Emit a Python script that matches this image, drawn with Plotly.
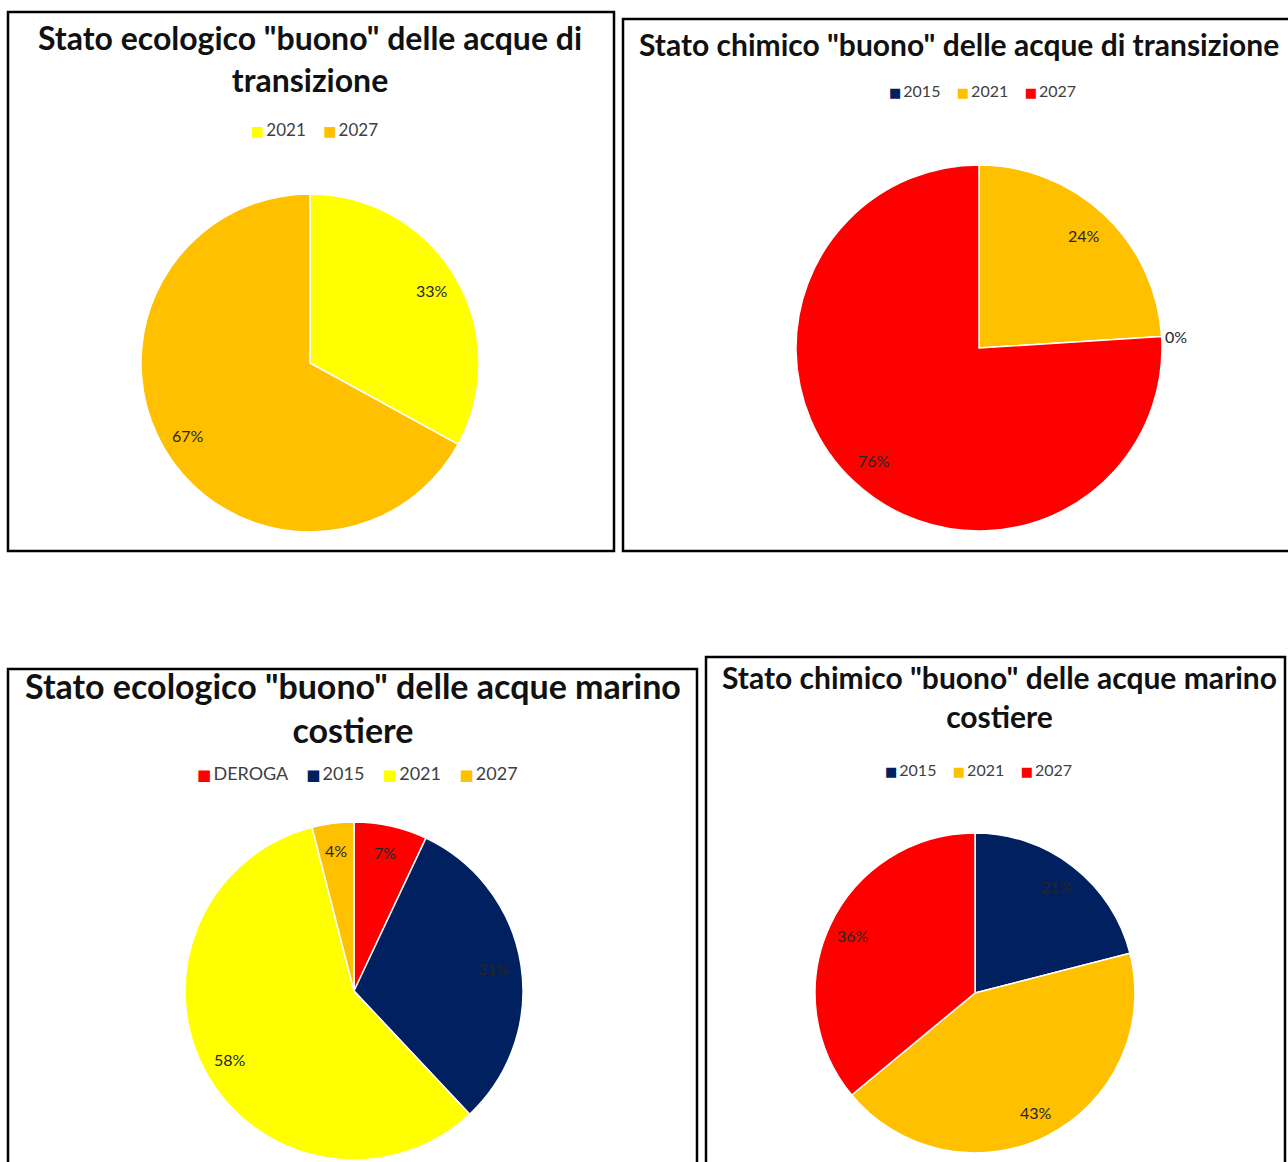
import math
import plotly.graph_objects as go

# ---------------- data ----------------
titles = [
    'Stato ecologico "buono" delle acque di<br>transizione',
    'Stato chimico "buono" delle acque di transizione',
    'Stato ecologico "buono" delle acque marino<br>costiere',
    'Stato chimico "buono" delle acque marino<br>costiere',
]
cats1 = ["2021", "2027"]
vals1 = [33, 67]
cats2 = ["2015", "2021", "2027"]
vals2 = [0, 24, 76]
cats3 = ["DEROGA", "2015", "2021", "2027"]
vals3 = [7, 31, 58, 4]
cats4 = ["2015", "2021", "2027"]
vals4 = [21, 43, 36]

colors1 = ["#FFFF00", "#FFC000"]
colors2 = ["#002060", "#FFC000", "#FF0000"]
colors3 = ["#FF0000", "#002060", "#FFFF00", "#FFC000"]
colors4 = ["#002060", "#FFC000", "#FF0000"]

# ---------------- layout (pixels) ----------------
W, H = 1288, 1162
panels = [
    dict(cats=cats1, vals=vals1, colors=colors1, cx=310, cy=363, r=169,
         box=(8, 12, 614, 551), tx=310, ty=58, tsize=32, lx=314, ly=129, lsize=17),
    dict(cats=cats2, vals=vals2, colors=colors2, cx=979, cy=348, r=183,
         box=(623, 19, 1292, 551), tx=959, ty=44, tsize=30, lx=982, ly=90, lsize=16),
    dict(cats=cats3, vals=vals3, colors=colors3, cx=354, cy=991, r=169,
         box=(8, 669, 697, 1166), tx=353, ty=707, tsize=34, lx=357, ly=773, lsize=18),
    dict(cats=cats4, vals=vals4, colors=colors4, cx=975, cy=993, r=160,
         box=(706, 657, 1285, 1166), tx=999, ty=696, tsize=30, lx=979, ly=769, lsize=16),
]


def px(x):
    return x / W


def py(y):
    return 1 - y / H


fig = go.Figure()
annotations = []
shapes = []

for i, p in enumerate(panels):
    cx, cy, r = p["cx"], p["cy"], p["r"]
    fig.add_trace(go.Pie(
        labels=p["cats"], values=p["vals"], sort=False, direction="clockwise",
        rotation=0, marker=dict(colors=p["colors"], line=dict(color="white", width=1.5)),
        textinfo="none", hoverinfo="label+percent", showlegend=False,
        domain=dict(x=[px(cx - r), px(cx + r)], y=[py(cy + r), py(cy - r)]),
    ))
    total = sum(p["vals"])
    cum = 0
    n = len(p["vals"])
    for k, (c, v) in enumerate(zip(p["cats"], p["vals"])):
        label = f"{round(100 * v / total)}%"
        if v == 0:
            nxt = cum + (p["vals"][k + 1] if k + 1 < n else 0)
            theta = 2 * math.pi * nxt / total
            rr = 1.01 * r
            annotations.append(dict(
                x=px(cx + rr * math.sin(theta)), y=py(cy - rr * math.cos(theta)),
                xref="paper", yref="paper", text=label,
                showarrow=False, xanchor="left", yanchor="middle",
                font=dict(family="Lato", size=16, color="#262626")))
        else:
            theta = 2 * math.pi * (cum + v / 2) / total
            rr = 0.84 * r
            annotations.append(dict(
                x=px(cx + rr * math.sin(theta)), y=py(cy - rr * math.cos(theta)),
                xref="paper", yref="paper", text=label,
                showarrow=False, xanchor="center", yanchor="middle",
                font=dict(family="Lato", size=16, color="#262626")))
        cum += v
    # title
    annotations.append(dict(
        x=px(p["tx"]), y=py(p["ty"]), xref="paper", yref="paper", text=titles[i],
        showarrow=False, xanchor="center", yanchor="middle",
        font=dict(family="Lato", size=p["tsize"], color="#111111", weight="bold")))
    # legend
    items = []
    sq = p["lsize"] - 3
    for c, col in zip(p["cats"], p["colors"]):
        items.append(f"<span style='color:{col};font-size:{sq}px;font-family:DejaVu Sans'>■</span>\u2009{c}")
    annotations.append(dict(
        x=px(p["lx"]), y=py(p["ly"]), xref="paper", yref="paper",
        text="\u00a0\u00a0\u00a0\u00a0".join(items), showarrow=False,
        xanchor="center", yanchor="middle",
        font=dict(family="Lato", size=p["lsize"], color="#404040")))
    # frame
    x0, y0, x1, y1 = p["box"]
    shapes.append(dict(type="rect", xref="paper", yref="paper",
                       x0=px(x0), x1=px(x1), y0=py(y1), y1=py(y0),
                       line=dict(color="black", width=2.5)))

fig.update_layout(
    width=W, height=H, margin=dict(l=0, r=0, t=0, b=0),
    paper_bgcolor="white", plot_bgcolor="white",
    annotations=annotations, shapes=shapes, showlegend=False,
)

fig.write_html("out.html", config={"displayModeBar": False},
               post_script="document.body.style.margin='0';")
